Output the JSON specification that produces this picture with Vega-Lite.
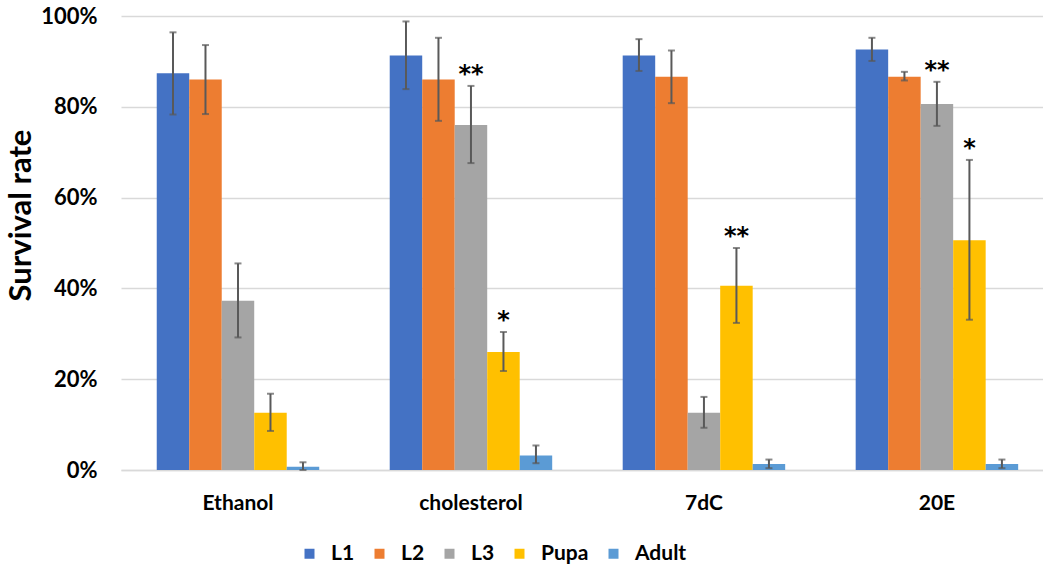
{
  "$schema": "https://vega.github.io/schema/vega-lite/v6.json",
  "autosize": {"type": "none"},
  "padding": {"left": 121, "top": 16, "right": 0, "bottom": 95},
  "width": 922,
  "height": 454,
  "background": "white",
  "config": {"view": {"stroke": null}, "font": "Lato"},
  "data": {"values": [
    {"treatment": "Ethanol", "stage": "L1", "value": 0.874, "lo": 0.783, "hi": 0.964, "sig": ""},
    {"treatment": "Ethanol", "stage": "L2", "value": 0.860, "lo": 0.784, "hi": 0.936, "sig": ""},
    {"treatment": "Ethanol", "stage": "L3", "value": 0.373, "lo": 0.292, "hi": 0.455, "sig": ""},
    {"treatment": "Ethanol", "stage": "Pupa", "value": 0.126, "lo": 0.086, "hi": 0.168, "sig": ""},
    {"treatment": "Ethanol", "stage": "Adult", "value": 0.007, "lo": 0.0, "hi": 0.017, "sig": ""},
    {"treatment": "cholesterol", "stage": "L1", "value": 0.913, "lo": 0.839, "hi": 0.988, "sig": ""},
    {"treatment": "cholesterol", "stage": "L2", "value": 0.860, "lo": 0.769, "hi": 0.952, "sig": ""},
    {"treatment": "cholesterol", "stage": "L3", "value": 0.760, "lo": 0.676, "hi": 0.846, "sig": "**"},
    {"treatment": "cholesterol", "stage": "Pupa", "value": 0.260, "lo": 0.218, "hi": 0.304, "sig": "*"},
    {"treatment": "cholesterol", "stage": "Adult", "value": 0.032, "lo": 0.015, "hi": 0.054, "sig": ""},
    {"treatment": "7dC", "stage": "L1", "value": 0.913, "lo": 0.879, "hi": 0.949, "sig": ""},
    {"treatment": "7dC", "stage": "L2", "value": 0.866, "lo": 0.808, "hi": 0.924, "sig": ""},
    {"treatment": "7dC", "stage": "L3", "value": 0.126, "lo": 0.093, "hi": 0.161, "sig": ""},
    {"treatment": "7dC", "stage": "Pupa", "value": 0.406, "lo": 0.324, "hi": 0.489, "sig": "**"},
    {"treatment": "7dC", "stage": "Adult", "value": 0.013, "lo": 0.004, "hi": 0.023, "sig": ""},
    {"treatment": "20E", "stage": "L1", "value": 0.926, "lo": 0.901, "hi": 0.952, "sig": ""},
    {"treatment": "20E", "stage": "L2", "value": 0.866, "lo": 0.858, "hi": 0.877, "sig": ""},
    {"treatment": "20E", "stage": "L3", "value": 0.806, "lo": 0.758, "hi": 0.855, "sig": "**"},
    {"treatment": "20E", "stage": "Pupa", "value": 0.506, "lo": 0.331, "hi": 0.683, "sig": "*"},
    {"treatment": "20E", "stage": "Adult", "value": 0.013, "lo": 0.004, "hi": 0.023, "sig": ""}
  ]},
  "encoding": {
    "x": {
      "field": "treatment", "type": "nominal",
      "sort": ["Ethanol", "cholesterol", "7dC", "20E"],
      "scale": {"paddingInner": 0.3026, "paddingOuter": 0.13, "align": 0.59},
      "axis": {
        "title": null, "labelAngle": 0, "ticks": false,
        "domain": true, "domainColor": "#D9D9D9", "domainWidth": 1.5,
        "labelPadding": 22, "labelFont": "Lato", "labelFontWeight": "bold",
        "labelFontSize": 21, "labelColor": "#000000"
      }
    },
    "xOffset": {
      "field": "stage", "type": "nominal",
      "sort": ["L1", "L2", "L3", "Pupa", "Adult"],
      "scale": {"paddingInner": 0, "paddingOuter": 0}
    }
  },
  "layer": [
    {
      "mark": {"type": "bar"},
      "encoding": {
        "y": {
          "field": "value", "type": "quantitative",
          "scale": {"domain": [0, 1], "nice": false},
          "axis": {
            "title": "Survival rate", "format": ".0%",
            "values": [0, 0.2, 0.4, 0.6, 0.8, 1],
            "grid": true, "gridColor": "#D9D9D9", "gridWidth": 1.3,
            "domain": false, "ticks": false, "labelPadding": 24,
            "labelFont": "Lato", "labelFontWeight": "bold", "labelFontSize": 22,
            "labelColor": "#000000",
            "titleFont": "Lato", "titleFontWeight": "bold", "titleFontSize": 31,
            "titleColor": "#000000",
            "titleAngle": -90, "titleX": -91, "titleY": 199,
            "titleAlign": "center", "titleBaseline": "alphabetic"
          }
        },
        "color": {
          "field": "stage", "type": "nominal",
          "sort": ["L1", "L2", "L3", "Pupa", "Adult"],
          "scale": {
            "domain": ["L1", "L2", "L3", "Pupa", "Adult"],
            "range": ["#4472C4", "#ED7D31", "#A5A5A5", "#FFC000", "#5B9BD5"]
          },
          "legend": {
            "title": null, "orient": "none", "direction": "horizontal",
            "legendX": 178, "legendY": 527, "padding": 0,
            "symbolType": "square", "symbolSize": 100, "symbolStrokeWidth": 0,
            "labelFont": "Lato", "labelFontWeight": "bold", "labelFontSize": 21,
            "labelColor": "#000000", "labelOffset": 11, "columnPadding": 14
          }
        }
      }
    },
    {
      "mark": {"type": "rule", "color": "#595959", "strokeWidth": 2},
      "encoding": {
        "y": {"field": "lo", "type": "quantitative"},
        "y2": {"field": "hi"}
      }
    },
    {
      "mark": {"type": "tick", "color": "#595959", "thickness": 2, "size": 7, "orient": "horizontal"},
      "encoding": {"y": {"field": "lo", "type": "quantitative"}}
    },
    {
      "mark": {"type": "tick", "color": "#595959", "thickness": 2, "size": 7, "orient": "horizontal"},
      "encoding": {"y": {"field": "hi", "type": "quantitative"}}
    },
    {
      "transform": [{"filter": "datum.sig != ''"}],
      "mark": {"type": "text", "font": "DejaVu Sans", "fontWeight": "bold", "fontSize": 24, "color": "#000000", "baseline": "middle", "dy": -11},
      "encoding": {
        "y": {"field": "hi", "type": "quantitative"},
        "text": {"field": "sig", "type": "nominal"}
      }
    }
  ]
}
